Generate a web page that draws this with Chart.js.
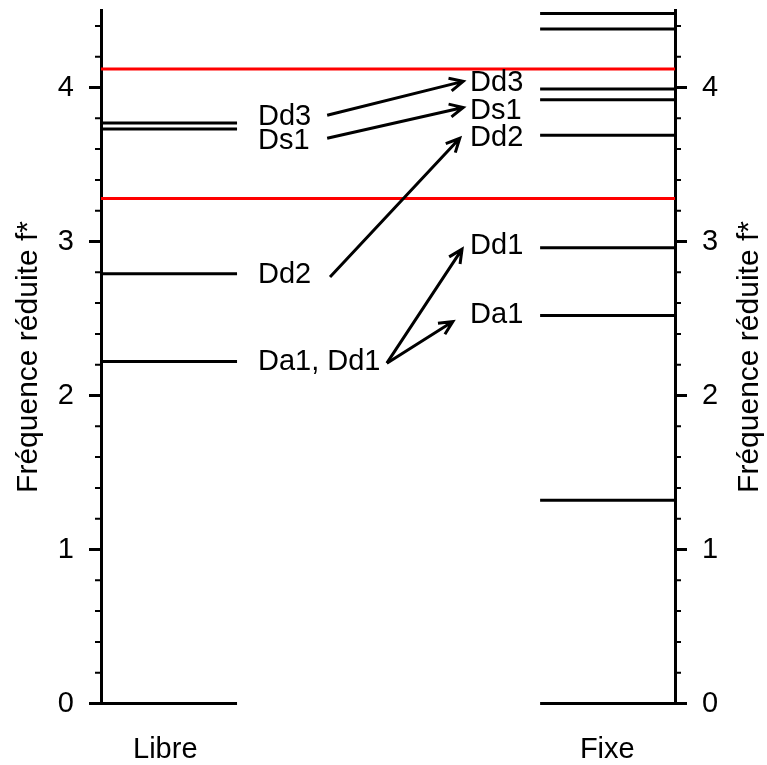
<!DOCTYPE html>
<html>
<head>
<meta charset="utf-8">
<script src="https://cdn.jsdelivr.net/npm/chart.js@4/dist/chart.umd.min.js"></script>
<style>
  body { margin: 0; background: #fff; }
  canvas { display: block; }
</style>
</head>
<body>
<canvas id="c" width="767" height="765"></canvas>
<script>
// reduced frequencies f*
const columns = ['Libre', 'Fixe'];
const libreLevels = [0, 2.22, 2.79, 3.73, 3.77];
const fixeLevels = [0, 1.32, 2.52, 2.96, 3.69, 3.92, 3.99, 4.38, 4.48];
const redLevels = [3.28, 4.12];
const yTicks = [0, 1, 2, 3, 4];
const yMax = 4.5;
const minorStep = 0.2;

// mode labels: [text, f* where the text sits]
const libreLabels = [['Dd3', 3.81], ['Ds1', 3.65], ['Dd2', 2.78], ['Da1, Dd1', 2.22]];
const fixeLabels = [['Dd3', 4.03], ['Ds1', 3.85], ['Dd2', 3.67], ['Dd1', 2.97], ['Da1', 2.52]];

// arrows: from libre f* to fixe f*
const arrowFrom = [3.82, 3.67, 2.77, 2.21, 2.21];
const arrowTo = [4.04, 3.87, 3.67, 2.95, 2.48];

const FONT = '"Liberation Sans", Arial, sans-serif';
const FS = 29;
const TITLE_FS = 30;

// x layout in a 0..1 frame between the two axes
const spanLibre = [0, 0.237];
const spanFixe = [0.765, 1];
const colCenters = [0.112, 0.882];
const arrowX0 = [0.394, 0.394, 0.399, 0.498, 0.498];
const arrowX1 = [0.631, 0.631, 0.625, 0.629, 0.613];

const datasets = [];
libreLevels.forEach(v => datasets.push({
  data: [{x: spanLibre[0], y: v}, {x: spanLibre[1], y: v}],
  borderColor: '#000', borderWidth: 3
}));
fixeLevels.forEach(v => datasets.push({
  data: [{x: spanFixe[0], y: v}, {x: spanFixe[1], y: v}],
  borderColor: '#000', borderWidth: 3
}));
redLevels.forEach(v => datasets.push({
  data: [{x: 0, y: v}, {x: 1, y: v}],
  borderColor: '#f00', borderWidth: 3
}));
datasets.forEach(d => { d.showLine = true; d.pointRadius = 0; d.clip = false; });

function drawArrow(ctx, x0, y0, x1, y1) {
  const a = Math.atan2(y1 - y0, x1 - x0), h = 15, w = 0.45;
  ctx.beginPath();
  ctx.moveTo(x0, y0); ctx.lineTo(x1, y1);
  ctx.moveTo(x1 - h * Math.cos(a - w), y1 - h * Math.sin(a - w));
  ctx.lineTo(x1, y1);
  ctx.lineTo(x1 - h * Math.cos(a + w), y1 - h * Math.sin(a + w));
  ctx.stroke();
}

const overlay = {
  id: 'overlay',
  afterDraw(chart) {
    const {ctx, scales: {x, y}} = chart;
    ctx.save();
    ctx.strokeStyle = '#000';
    // tick marks, long on integers, short on minors
    for (let i = 0; i * minorStep <= yMax + 1e-9; i++) {
      const v = i * minorStep;
      const major = Math.abs(v - Math.round(v)) < 1e-6;
      const len = major ? 12 : 6;
      ctx.lineWidth = major ? 3 : 2;
      const py = y.getPixelForValue(v);
      ctx.beginPath();
      ctx.moveTo(x.left - len, py); ctx.lineTo(x.left, py);
      ctx.moveTo(x.right, py); ctx.lineTo(x.right + len, py);
      ctx.stroke();
    }
    // labels
    ctx.fillStyle = '#000';
    ctx.font = FS + 'px ' + FONT;
    ctx.textBaseline = 'middle';
    ctx.textAlign = 'left';
    libreLabels.forEach(([t, v]) => ctx.fillText(t, x.getPixelForValue(0.2735), y.getPixelForValue(v)));
    fixeLabels.forEach(([t, v]) => ctx.fillText(t, x.getPixelForValue(0.643), y.getPixelForValue(v)));
    // arrows
    ctx.lineWidth = 3;
    arrowFrom.forEach((v, i) => drawArrow(ctx,
      x.getPixelForValue(arrowX0[i]), y.getPixelForValue(v),
      x.getPixelForValue(arrowX1[i]), y.getPixelForValue(arrowTo[i])));
    // right axis title, reading bottom to top like the left one
    ctx.font = TITLE_FS + 'px ' + FONT;
    ctx.translate(750, (y.top + y.bottom) / 2);
    ctx.rotate(-Math.PI / 2);
    ctx.textAlign = 'center';
    ctx.fillText('Fréquence réduite f*', 0, 0);
    ctx.restore();
  }
};

function noPad(s) { s.paddingTop = 0; s.paddingBottom = 0; s.paddingLeft = 0; s.paddingRight = 0; }

const yAxis = (pos, width) => ({
  type: 'linear',
  position: pos,
  min: 0, max: yMax,
  afterBuildTicks: s => { s.ticks = yTicks.map(v => ({value: v})); },
  afterFit: s => { s.width = width; noPad(s); },
  grid: {display: false, drawTicks: false},
  border: {display: true, color: '#000', width: 3},
  ticks: {color: '#000', padding: 27, font: {family: FONT, size: FS}}
});

new Chart(document.getElementById('c'), {
  type: 'scatter',
  data: {datasets},
  options: {
    responsive: false,
    animation: false,
    devicePixelRatio: 1,
    layout: {padding: {top: 10.5, left: 0, right: 0, bottom: 0}},
    plugins: {legend: {display: false}, tooltip: {enabled: false}},
    scales: {
      x: {
        type: 'linear', min: 0, max: 1,
        afterBuildTicks: s => { s.ticks = colCenters.map(v => ({value: v})); },
        afterFit: s => { s.height = 61.5; noPad(s); },
        grid: {display: false, drawTicks: false},
        border: {display: false},
        ticks: {
          color: '#000', padding: 29, maxRotation: 0, autoSkip: false,
          font: {family: FONT, size: FS},
          callback: (v, i) => columns[i]
        }
      },
      y: Object.assign(yAxis('left', 101), {
        title: {display: true, text: 'Fréquence réduite f*', color: '#000',
          padding: {top: 11, bottom: 0}, font: {family: FONT, size: TITLE_FS}}
      }),
      y2: yAxis('right', 92)
    }
  },
  plugins: [overlay]
});
</script>
</body>
</html>
